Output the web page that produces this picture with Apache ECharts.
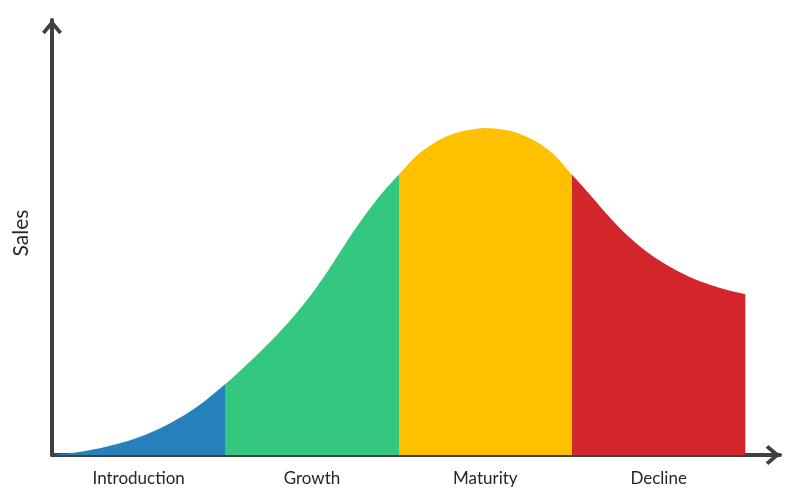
<!DOCTYPE html>
<html>
<head>
<meta charset="utf-8">
<script src="https://cdn.jsdelivr.net/npm/echarts@6/dist/echarts.min.js"></script>
<style>html,body{margin:0;padding:0;background:#fff}#c{width:800px;height:502px}</style>
</head>
<body>
<div id="c"></div>
<script>
const stages = ['Introduction', 'Growth', 'Maturity', 'Decline'];
const stageTime = [0,0.1,0.2,0.3,0.4,0.5,0.6,0.7,0.8,0.9,1.0,1.1,1.2,1.3,1.4,1.5,1.6,1.7,1.8,1.9,2.0,2.1,2.2,2.3,2.4,2.5,2.6,2.7,2.8,2.9,3.0,3.1,3.2,3.3,3.4,3.5,3.6,3.7,3.8,3.9,4.0];
const sales = [0,0.4,1.0,1.8,2.8,4.1,5.7,7.7,10.1,13.0,16.3,19.9,23.7,27.7,32.1,37.1,42.8,49.0,54.8,60.0,64.4,68.7,71.6,73.6,74.7,75.2,74.8,73.8,71.9,68.9,64.4,60.0,55.4,51.2,47.7,44.8,42.5,40.6,39.1,37.9,37.0];
const yName = 'Sales';

const chart = echarts.init(document.getElementById('c'));
const font = 'Lato, "Open Sans", sans-serif';
const chevron = 'path://M10,0 L20,12 L17.2,14.6 L10,6 L2.8,14.6 L0,12 Z';
chart.setOption({
  animation: false,
  grid: { left: 52, right: 20, top: 20, bottom: 47, containLabel: false },
  visualMap: {
    show: false,
    type: 'piecewise',
    dimension: 0,
    seriesIndex: 0,
    pieces: [
      { lt: 1, color: '#2680BB' },
      { gte: 1, lt: 2, color: '#33C77F' },
      { gte: 2, lt: 3, color: '#FFC000' },
      { gte: 3, color: '#D3262B' }
    ]
  },
  xAxis: {
    type: 'value', min: 0, max: 4.2, interval: 0.5,
    axisLine: { show: true, lineStyle: { color: '#404040', width: 4 },
      symbol: ['none', chevron], symbolSize: [20, 15], symbolOffset: [0, -7] },
    axisTick: { show: false },
    splitLine: { show: false },
    axisLabel: {
      margin: 15, fontSize: 17, color: '#262626', fontFamily: font,
      showMaxLabel: false,
      formatter: function (v) {
        const k = Math.round((v - 0.5) * 10) / 10;
        return (Number.isInteger(k) && k >= 0 && k < stages.length) ? stages[k] : '';
      }
    }
  },
  yAxis: {
    type: 'value', min: 0, max: 100,
    name: yName, nameLocation: 'middle', nameRotate: 90, nameGap: 20,
    nameTextStyle: { fontSize: 21, color: '#262626', fontFamily: font, padding: [0, 0, 0, 9] },
    axisLine: { show: true, lineStyle: { color: '#404040', width: 4 },
      symbol: ['none', chevron], symbolSize: [20, 15], symbolOffset: [0, -7] },
    axisTick: { show: false },
    splitLine: { show: false },
    axisLabel: { show: false }
  },
  series: [{
    type: 'line',
    data: stageTime.map((t, i) => [t, sales[i]]),
    smooth: 0.3,
    showSymbol: false,
    lineStyle: { width: 0 },
    areaStyle: { opacity: 1 },
    z: 1
  }]
});
</script>
</body>
</html>
